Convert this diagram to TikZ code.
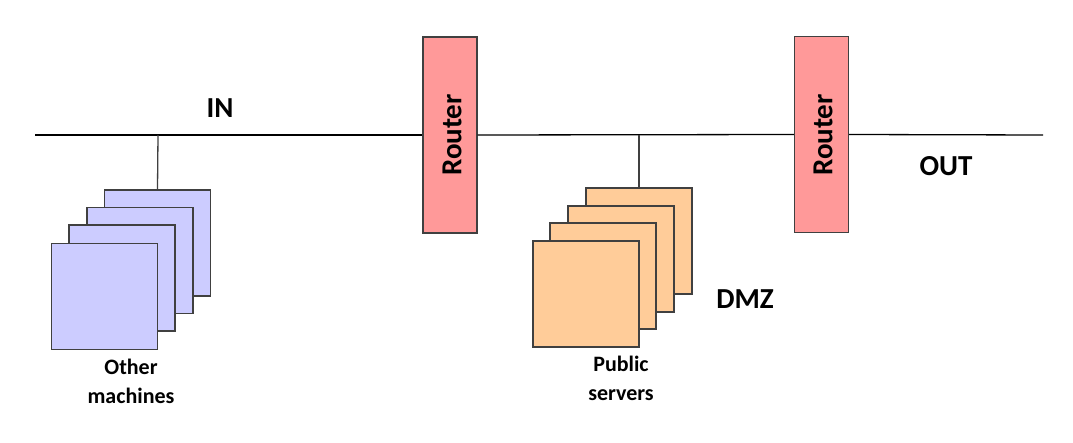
\documentclass[tikz,border=0pt]{standalone}
\usepackage{fontspec}
\setmainfont{Carlito}
\definecolor{lav}{HTML}{CCCCFF}
\definecolor{peach}{HTML}{FFCC99}
\definecolor{rose}{HTML}{FF9999}
\definecolor{edge}{HTML}{404040}
\begin{document}
\begin{tikzpicture}[x=1pt,y=-1pt,
  wire/.style={line width=1.3pt,black},
  drop/.style={line width=1.3pt,edge},
  machine/.style={draw=edge,line width=1.3pt,fill=lav,minimum width=106pt,minimum height=106pt,inner sep=0pt},
  server/.style={draw=edge,line width=1.3pt,fill=peach,minimum width=106pt,minimum height=106pt,inner sep=0pt},
  routerbox/.style={draw=edge,line width=1.3pt,fill=rose,minimum width=54pt,minimum height=196pt,inner sep=0pt},
  routertext/.style={font=\fontsize{29}{33}\selectfont\bfseries,rotate=90},
  biglabel/.style={font=\fontsize{29}{33}\selectfont\bfseries},
  smalllabel/.style={font=\fontsize{22}{29}\selectfont\bfseries,align=center}
]
\useasboundingbox (0,0) rectangle (1073,443);
% bus ends
\coordinate (L) at (35,135);
\coordinate (R) at (1043,135);
% routers
\node[routerbox] (r1) at (450,135) {};
\node[routertext] (r1t) at (452,135) {Router};
\node[routerbox] (r2) at (821.5,134.5) {};
\node[routertext] (r2t) at (823,135) {Router};
% bus segments
\draw[wire] (L) -- (r1.west);
\draw[wire] (r1.east) -- (r2.west);
\draw[wire] (r2.east) -- (R);
% left stack
\node[machine] (m4) at (157.5,243) {};
\node[machine] (m3) at (140,260.5) {};
\node[machine] (m2) at (122,278) {};
\node[machine] (m1) at (104.5,296.5) {};
\coordinate (t1) at (158,135);
\draw[drop] (t1) -- (m4.north);
% right stack
\node[server] (s4) at (639,241) {};
\node[server] (s3) at (621,259) {};
\node[server] (s2) at (603,276) {};
\node[server] (s1) at (586,294) {};
\coordinate (t2) at (639,135);
\draw[drop] (t2) -- (s4.north);
% labels
\node[biglabel] (in) at (220,108) {IN};
\node[biglabel] (out) at (946,166) {OUT};
\node[biglabel] (dmz) at (745,299) {DMZ};
\node[smalllabel] (om) at (131,381) {Other\\machines};
\node[smalllabel] (ps) at (621,378) {Public\\servers};
\end{tikzpicture}
\end{document}
